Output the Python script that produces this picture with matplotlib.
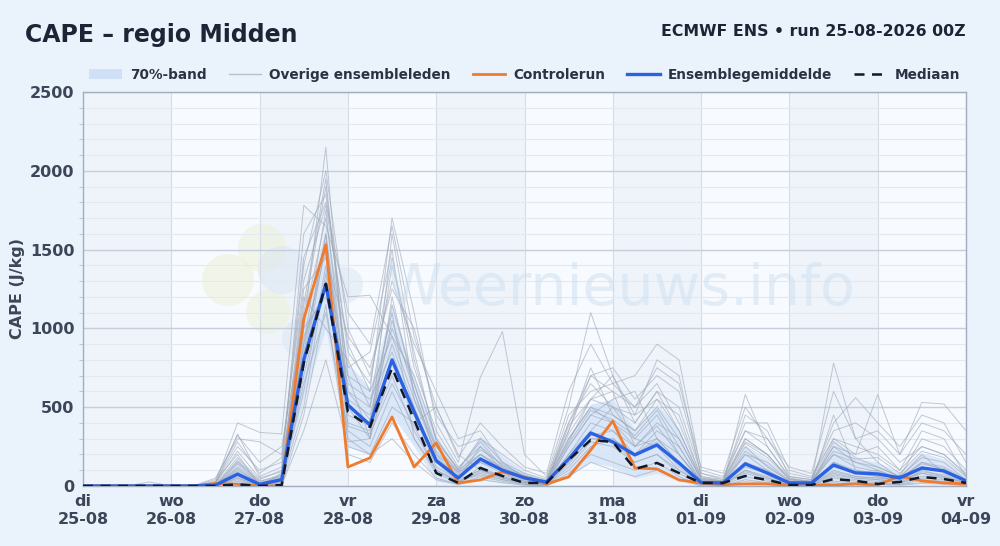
import matplotlib.pyplot as plt
import numpy as np
from matplotlib.patches import Ellipse, Patch
from matplotlib.lines import Line2D
from matplotlib.ticker import MultipleLocator

# 6-hourly steps, 25-08 00Z .. 04-09 00Z
steps = np.arange(41) * 6 / 24.0

day_labels = ["di\n25-08", "wo\n26-08", "do\n27-08", "vr\n28-08", "za\n29-08", "zo\n30-08",
              "ma\n31-08", "di\n01-09", "wo\n02-09", "do\n03-09", "vr\n04-09"]

control = [0, 0, 0, 0, 0, 0, 15, 10, 0, 0, 1060, 1530, 120, 178, 438, 120, 273, 19, 38, 89, 57,
           13, 57, 228, 412, 114, 108, 38, 19, 8, 13, 13, 6, 6, 6, 13, 6, 63, 32, 19, 13]
ens_mean = [0, 0, 0, 0, 0, 0, 5, 75, 10, 40, 800, 1280, 514, 387, 800, 470, 160, 51, 171, 100, 51,
            25, 171, 336, 279, 197, 260, 146, 22, 19, 140, 82, 19, 19, 133, 83, 76, 51, 114, 95, 32]
median = [0, 0, 0, 0, 0, 0, 0, 10, 0, 5, 780, 1282, 470, 374, 749, 420, 82, 19, 114, 63, 19,
          19, 165, 292, 279, 108, 146, 82, 19, 19, 63, 38, 6, 6, 44, 32, 13, 25, 57, 44, 19]
band_lo = [0, 0, 0, 0, 0, 0, 0, 10, 0, 5, 550, 1000, 250, 200, 450, 250, 30, 5, 40, 20, 5,
           0, 60, 150, 120, 50, 80, 30, 0, 0, 40, 10, 0, 0, 20, 10, 10, 5, 30, 20, 5]
band_hi = [0, 0, 0, 0, 0, 0, 15, 180, 20, 90, 1050, 1650, 780, 620, 1150, 700, 320, 110, 320, 190, 90,
           45, 320, 520, 550, 360, 520, 360, 50, 40, 260, 170, 40, 30, 290, 170, 150, 90, 210, 170, 70]

members = [
    [0, 0, 0, 0, 0, 0, 0, 120, 20, 30, 900, 1500, 600, 420, 900, 500, 150, 60, 150, 80, 30, 20, 200, 400, 350, 200, 300, 150, 20, 20, 120, 80, 20, 10, 100, 60, 50, 40, 80, 60, 20],
    [0, 0, 0, 0, 0, 0, 10, 330, 60, 120, 1100, 1900, 700, 300, 1200, 600, 200, 40, 250, 100, 40, 30, 300, 500, 400, 300, 450, 200, 30, 20, 250, 120, 30, 20, 150, 80, 100, 40, 150, 120, 40],
    [0, 0, 0, 0, 0, 0, 0, 50, 0, 10, 700, 1300, 400, 350, 700, 350, 100, 20, 120, 60, 20, 10, 150, 300, 280, 150, 200, 100, 10, 10, 80, 40, 10, 5, 60, 40, 30, 20, 50, 40, 10],
    [0, 0, 0, 25, 0, 0, 20, 400, 340, 330, 1780, 1650, 1200, 1210, 950, 700, 300, 100, 200, 120, 60, 20, 400, 650, 500, 450, 800, 700, 60, 30, 300, 200, 40, 30, 200, 150, 120, 60, 300, 250, 100],
    [0, 0, 0, 0, 0, 0, 30, 200, 0, 80, 1000, 2150, 500, 300, 1600, 800, 300, 100, 300, 150, 50, 30, 350, 700, 600, 250, 400, 300, 40, 20, 580, 250, 50, 20, 780, 300, 150, 50, 200, 80, 30],
    [0, 0, 0, 0, 0, 0, 0, 80, 10, 40, 600, 1400, 300, 200, 500, 400, 500, 200, 100, 50, 20, 10, 100, 250, 300, 200, 350, 250, 20, 10, 100, 60, 20, 10, 80, 50, 40, 20, 100, 60, 20],
    [0, 0, 0, 0, 0, 0, 50, 300, 280, 200, 1300, 1780, 900, 600, 1700, 1100, 400, 150, 690, 980, 200, 60, 500, 1100, 700, 400, 600, 500, 80, 50, 400, 400, 100, 60, 300, 200, 580, 200, 530, 520, 350],
    [0, 0, 0, 0, 0, 0, 0, 150, 30, 60, 1200, 1000, 800, 500, 1100, 300, 100, 30, 80, 40, 10, 5, 250, 450, 550, 600, 300, 150, 30, 10, 200, 100, 20, 10, 450, 100, 60, 30, 120, 100, 30],
    [0, 0, 0, 0, 0, 0, 0, 20, 0, 0, 450, 1150, 200, 150, 400, 200, 50, 10, 60, 30, 10, 0, 80, 200, 150, 100, 150, 60, 0, 0, 40, 20, 0, 0, 30, 20, 10, 10, 20, 20, 5],
    [0, 0, 0, 0, 0, 0, 20, 250, 100, 150, 1400, 2000, 1000, 700, 1300, 900, 600, 300, 350, 150, 80, 40, 450, 600, 650, 700, 900, 800, 100, 60, 350, 300, 80, 50, 350, 400, 300, 150, 250, 200, 80],
    [0, 0, 0, 0, 0, 0, 5, 100, 20, 50, 850, 1600, 550, 450, 1000, 650, 250, 80, 200, 100, 40, 20, 300, 500, 450, 350, 500, 300, 40, 30, 200, 150, 30, 20, 250, 150, 100, 50, 150, 100, 40],
    [0, 0, 0, 0, 0, 0, 0, 60, 5, 20, 950, 1250, 650, 550, 850, 450, 120, 40, 100, 70, 30, 10, 200, 350, 500, 300, 250, 100, 20, 10, 150, 70, 10, 10, 120, 80, 60, 30, 90, 70, 20],
    [0, 0, 0, 0, 0, 0, 10, 180, 40, 100, 1600, 1850, 850, 650, 1450, 750, 350, 120, 250, 130, 70, 30, 380, 550, 600, 500, 650, 400, 60, 40, 300, 200, 50, 30, 250, 200, 250, 100, 350, 300, 60],
    [0, 0, 0, 0, 0, 0, 0, 30, 0, 5, 350, 800, 250, 200, 300, 150, 40, 10, 40, 20, 5, 0, 60, 150, 100, 60, 100, 40, 0, 0, 30, 10, 0, 0, 20, 10, 10, 5, 15, 10, 0],
    [0, 0, 0, 0, 0, 0, 40, 320, 150, 250, 1050, 1700, 750, 850, 1500, 550, 200, 90, 150, 100, 60, 30, 350, 750, 450, 350, 550, 450, 50, 30, 450, 350, 60, 40, 400, 560, 400, 250, 450, 400, 150],
    [0, 0, 0, 0, 0, 0, 0, 90, 10, 30, 750, 1550, 450, 380, 1050, 600, 180, 50, 180, 90, 30, 20, 250, 450, 400, 250, 380, 200, 30, 20, 150, 100, 20, 10, 150, 100, 80, 40, 120, 90, 30],
    [0, 0, 0, 0, 0, 0, 0, 140, 20, 60, 1150, 1950, 600, 500, 1400, 850, 280, 110, 280, 120, 50, 30, 280, 550, 500, 400, 600, 350, 40, 30, 270, 180, 40, 20, 280, 180, 120, 60, 180, 150, 40],
    [0, 0, 0, 0, 0, 0, 0, 40, 0, 20, 650, 1100, 350, 250, 600, 300, 80, 20, 90, 50, 20, 10, 120, 280, 250, 150, 200, 80, 10, 5, 60, 30, 10, 5, 50, 30, 20, 10, 40, 30, 10],
    [0, 0, 0, 0, 0, 0, 15, 220, 50, 90, 1250, 1450, 950, 750, 1250, 1000, 450, 250, 300, 200, 100, 50, 400, 700, 750, 550, 700, 600, 80, 40, 350, 250, 60, 40, 300, 250, 200, 100, 250, 200, 70],
    [0, 0, 0, 0, 0, 0, 0, 70, 0, 30, 500, 1350, 280, 300, 800, 500, 150, 30, 70, 40, 20, 10, 180, 320, 350, 250, 300, 200, 20, 10, 100, 50, 10, 10, 90, 60, 50, 20, 80, 50, 20],
    [0, 0, 0, 0, 0, 0, 25, 280, 80, 180, 1450, 1800, 1100, 900, 1650, 950, 500, 180, 400, 250, 120, 80, 600, 900, 650, 500, 750, 650, 120, 80, 500, 300, 120, 80, 600, 300, 350, 200, 400, 350, 200],
    [0, 0, 0, 0, 0, 0, 0, 110, 10, 40, 900, 1750, 500, 400, 1150, 650, 220, 70, 200, 110, 40, 20, 270, 480, 420, 320, 480, 250, 30, 20, 220, 130, 30, 20, 200, 120, 90, 50, 140, 110, 30],
    [0, 0, 0, 0, 0, 0, 5, 160, 30, 70, 1000, 1200, 700, 600, 950, 550, 250, 90, 230, 140, 60, 30, 330, 550, 700, 450, 550, 350, 50, 30, 280, 200, 40, 30, 220, 170, 180, 80, 220, 180, 60],
    [0, 0, 0, 0, 0, 0, 0, 50, 0, 15, 800, 1600, 380, 330, 650, 380, 100, 30, 100, 60, 20, 10, 140, 300, 300, 200, 280, 120, 10, 10, 90, 50, 10, 5, 70, 50, 40, 20, 60, 50, 10],
]

BG = "#eaf2fb"
TXT = "#1c2536"
TICK = "#3b4658"

fig = plt.figure(figsize=(10, 5.46), dpi=100, facecolor=BG)
ax = fig.add_axes([0.083, 0.11, 0.883, 0.7215])
ax.set_facecolor("#f7fafe")

# alternating day shading
for d in range(0, 10, 2):
    ax.axvspan(d, d + 1, color="#e9f0fa", alpha=0.55, lw=0, zorder=0)

ax.set_xlim(0, 10)
ax.set_ylim(0, 2500)
ax.yaxis.set_major_locator(MultipleLocator(500))
ax.yaxis.set_minor_locator(MultipleLocator(100))
ax.set_xticks(np.arange(11))
ax.set_xticklabels(day_labels)
ax.grid(which="major", axis="y", color="#c6cedb", lw=1.0, zorder=1)
ax.grid(which="minor", axis="y", color="#e4e9f1", lw=0.8, zorder=1)
ax.grid(which="major", axis="x", color="#d6dce6", lw=0.8, zorder=1)

# watermark
fig.text(0.62, 0.47, "Weernieuws.info", fontsize=41, color="#c9dcef", alpha=0.45,
         ha="center", va="center", fontfamily="DejaVu Sans", zorder=2)
for (cx, cy, r, c) in [(262, 248, 24, "#edf2d8"), (228, 280, 26, "#edf2d8"), (268, 312, 22, "#edf2d8"),
                       (282, 270, 24, "#dbe6f3"), (302, 338, 20, "#dbe6f3"), (345, 285, 18, "#dbe6f3")]:
    ax.add_patch(Ellipse((cx / 1000, 1 - cy / 546), 2 * r / 1000, 2 * r / 546,
                         transform=fig.transFigure, facecolor=c, edgecolor="none", alpha=0.55, zorder=1.5))

ax.fill_between(steps, band_lo, band_hi, color="#d3e3f8", alpha=0.8, lw=0, zorder=2)
for m in members:
    ax.plot(steps, m, color="#9ca7b8", lw=0.7, alpha=0.6, zorder=3)
ax.plot(steps, control, color="#f07b2c", lw=2.0, zorder=5)
ax.plot(steps, ens_mean, color="#2b62e3", lw=2.4, zorder=6)
ax.plot(steps, median, color="#111827", lw=1.8, ls=(0, (4, 3)), zorder=7)

for s in ax.spines.values():
    s.set_color("#a3adbd")
    s.set_linewidth(1.0)
ax.tick_params(axis="both", which="major", labelsize=11.5, colors=TICK, length=0, pad=6)
ax.tick_params(axis="y", which="minor", length=3, color="#b5bdca")
for lab in ax.get_xticklabels() + ax.get_yticklabels():
    lab.set_fontweight("bold")
ax.set_ylabel("CAPE (J/kg)", fontsize=11.5, fontweight="bold", color=TICK, labelpad=4)

fig.text(0.025, 0.935, "CAPE – regio Midden", fontsize=17, fontweight="bold", color=TXT, va="center")
fig.text(0.966, 0.942, "ECMWF ENS • run 25-08-2026 00Z", fontsize=11.3, fontweight="bold", color=TXT,
         ha="right", va="center")

handles = [
    Patch(facecolor="#cfe0f7", edgecolor="none", label="70%-band"),
    Line2D([], [], color="#b8c0cc", lw=1, label="Overige ensembleleden"),
    Line2D([], [], color="#f07b2c", lw=2, label="Controlerun"),
    Line2D([], [], color="#2b62e3", lw=2.4, label="Ensemblegemiddelde"),
    Line2D([], [], color="#111827", lw=1.8, ls=(0, (4, 3)), label="Mediaan"),
]
leg = fig.legend(handles=handles, loc="center", bbox_to_anchor=(0.525, 0.863), ncol=5, frameon=False,
                 prop={"weight": "bold", "size": 9.8}, handlelength=2.4, columnspacing=1.6, handletextpad=0.6)
for t in leg.get_texts():
    t.set_color("#2a3344")

fig.savefig("out.png", dpi=100, facecolor=BG)
